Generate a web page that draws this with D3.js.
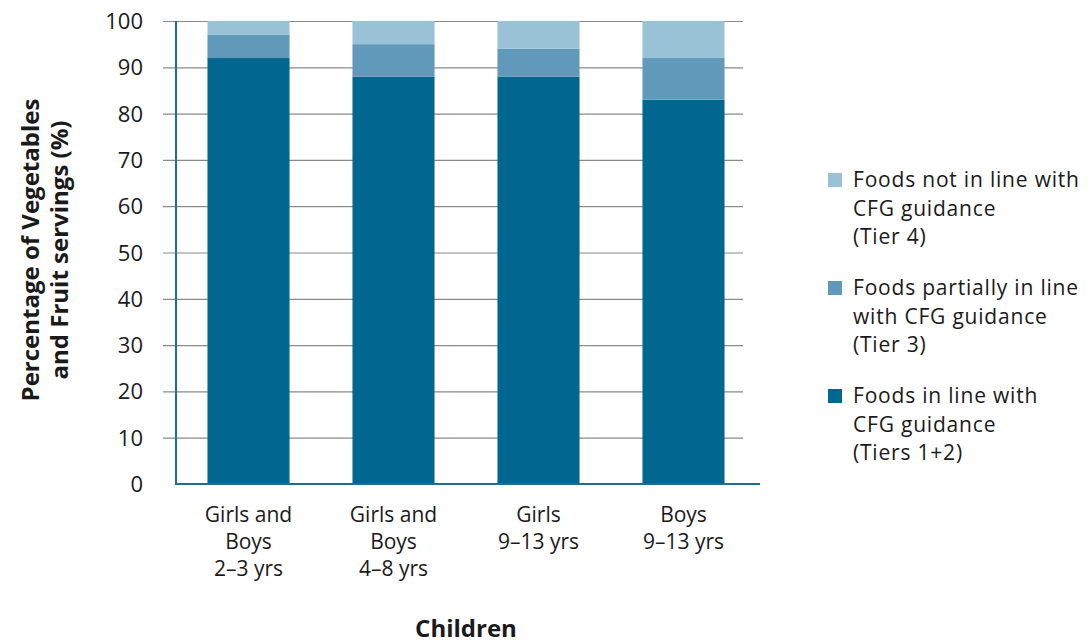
<!DOCTYPE html>
<html>
<head>
<meta charset="utf-8">
<script src="https://cdn.jsdelivr.net/npm/d3@7"></script>
<style>
  body { margin: 0; background: #fff; }
  svg text { font-family: "Open Sans", "Noto Sans", sans-serif; fill: #1a1a1a; }
</style>
</head>
<body>
<div class="chart"></div>
<script>
// groups along the x axis (each line of the label is an entry)
var categories = [
  ["Girls and", "Boys", "2\u20133 yrs"],
  ["Girls and", "Boys", "4\u20138 yrs"],
  ["Girls", "9\u201313 yrs"],
  ["Boys", "9\u201313 yrs"]
];
// share of servings per tier (%)
var tier12 = [92, 88, 88, 83];
var tier3 = [5, 7, 6, 9];
var tier4 = [3, 5, 6, 8];

var seriesNames = [
  ["Foods in line with", "CFG guidance", "(Tiers 1+2)"],
  ["Foods partially in line", "with CFG guidance", "(Tier 3)"],
  ["Foods not in line with", "CFG guidance", "(Tier 4)"]
];
var yTicks = [0, 10, 20, 30, 40, 50, 60, 70, 80, 90, 100];

var colors = ["#02678f", "#6199ba", "#9ac2d6"];

var width = 1090, height = 644;
var plotL = 176, plotR = 756, plotT = 21, plotB = 484;

var svg = d3.select(".chart").append("svg")
    .attr("width", width)
    .attr("height", height);

var rows = categories.map(function(c, i) {
  return {i: i, t12: tier12[i], t3: tier3[i], t4: tier4[i]};
});
var stack = d3.stack().keys(["t12", "t3", "t4"]);
var layers = stack(rows);

var x = d3.scaleBand()
    .domain(d3.range(categories.length))
    .range([plotL, plotR])
    .paddingInner(0.434)
    .paddingOuter(0.217);

var y = d3.scaleLinear()
    .domain([0, 100])
    .range([plotB, plotT]);

// gridlines (extend left past the axis as tick marks)
svg.append("g").selectAll("line.grid")
    .data(yTicks.filter(function(d) { return d > 0; }))
    .enter().append("line")
    .attr("class", "grid")
    .attr("x1", plotL - 13)
    .attr("x2", 743)
    .attr("y1", function(d) { return y(d) + 0.5; })
    .attr("y2", function(d) { return y(d) + 0.5; })
    .style("stroke", "#8a8a8a")
    .style("stroke-width", 1.2);

// bars
svg.append("g").selectAll("g.layer")
    .data(layers)
    .enter().append("g")
    .attr("class", "layer")
    .style("fill", function(d, i) { return colors[i]; })
  .selectAll("rect")
    .data(function(d) { return d; })
    .enter().append("rect")
    .attr("x", function(d) { return x(d.data.i); })
    .attr("width", x.bandwidth())
    .attr("y", function(d) { return y(d[1]); })
    .attr("height", function(d) { return y(d[0]) - y(d[1]); });

// axis lines
svg.append("line")
    .attr("x1", plotL).attr("x2", plotL)
    .attr("y1", plotT).attr("y2", plotB + 1)
    .style("stroke", "#1d6e92").style("stroke-width", 2);
svg.append("line")
    .attr("x1", plotL - 1).attr("x2", 760)
    .attr("y1", plotB).attr("y2", plotB)
    .style("stroke", "#1d6e92").style("stroke-width", 2);

// y tick labels
svg.append("g").selectAll("text")
    .data(yTicks)
    .enter().append("text")
    .attr("x", 143)
    .attr("y", function(d) { return y(d) + 8; })
    .attr("text-anchor", "end")
    .style("font-size", "22px")
    .text(function(d) { return d; });

// x category labels
var xl = svg.append("g").selectAll("text")
    .data(categories)
    .enter().append("text")
    .attr("text-anchor", "middle")
    .style("font-size", "21px");
xl.selectAll("tspan")
    .data(function(d, i) { return d.map(function(s) { return {s: s, i: i}; }); })
    .enter().append("tspan")
    .attr("x", function(d) { return x(d.i) + x.bandwidth() / 2; })
    .attr("y", function(d, j) { return 522 + j * 27; })
    .text(function(d) { return d.s; });

// axis titles
var yt = svg.append("text")
    .attr("transform", "translate(0,250) rotate(-90)")
    .attr("text-anchor", "middle")
    .style("font-size", "24px")
    .style("font-weight", "bold");
yt.append("tspan").attr("x", 0).attr("y", 39).text("Percentage of Vegetables");
yt.append("tspan").attr("x", 0).attr("y", 68).text("and Fruit servings (%)");

svg.append("text")
    .attr("x", 466)
    .attr("y", 637)
    .attr("text-anchor", "middle")
    .style("font-size", "24px")
    .style("font-weight", "bold")
    .text("Children");

// legend, top entry is the top layer
var legend = svg.append("g").selectAll("g.leg")
    .data([2, 1, 0])
    .enter().append("g")
    .attr("class", "leg")
    .attr("transform", function(d, i) { return "translate(828," + (173 + i * 108) + ")"; });
legend.append("rect")
    .attr("width", 14).attr("height", 14)
    .style("fill", function(d) { return colors[d]; });
legend.append("text")
    .style("font-size", "21px")
    .style("letter-spacing", "0.8px")
  .selectAll("tspan")
    .data(function(d) { return seriesNames[d]; })
    .enter().append("tspan")
    .attr("x", 25)
    .attr("y", function(d, j) { return 14 + j * 28.5; })
    .text(function(d) { return d; });
</script>
</body>
</html>
